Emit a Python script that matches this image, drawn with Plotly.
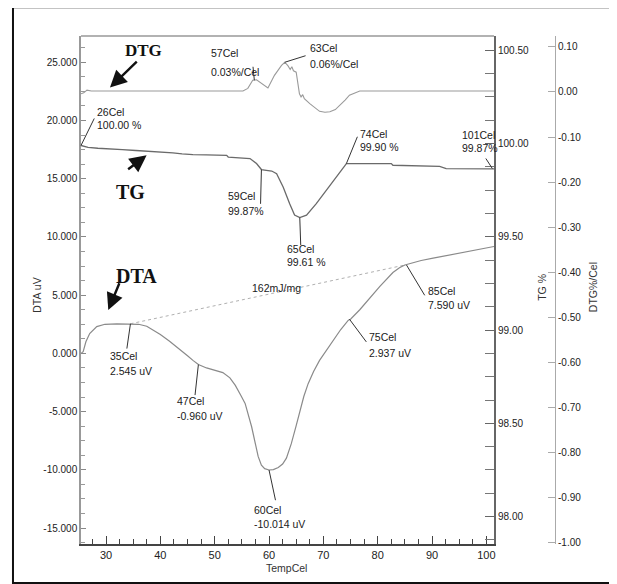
import plotly.graph_objects as go

# ---------------- data ----------------
dta_T = [25.4, 25.8, 26.3, 27.0, 28.3, 29.8, 32.0, 34.5, 36.0, 37.5, 38.7, 40.0, 41.7, 43.5,
         45.0, 46.0, 47.0, 48.5, 50.0, 51.5, 52.8, 53.8, 54.8, 55.6, 56.8, 58.0, 58.6, 59.2,
         60.0, 60.8, 61.7, 62.5, 63.2, 64.1, 65.0, 65.7, 66.4, 67.2, 68.2, 69.3, 70.5, 71.8,
         73.2, 74.6, 75.0, 76.7, 78.5, 80.4, 82.8, 84.0, 85.0, 86.5, 88.0, 90.2, 93.0, 96.3,
         99.0, 101.4]
dta_v = [0.00, 0.15, 1.00, 1.70, 2.30, 2.50, 2.54, 2.545, 2.50, 2.33, 2.02, 1.62, 1.05, 0.40,
         -0.20, -0.60, -0.96, -1.25, -1.45, -1.65, -2.10, -2.75, -3.60, -4.30, -6.30, -8.85,
         -9.60, -9.90, -10.014, -9.98, -9.80, -9.50, -9.00, -7.75, -6.20, -4.90, -3.70, -2.60,
         -1.55, -0.60, 0.20, 1.10, 2.05, 2.85, 2.937, 3.75, 4.75, 5.75, 6.95, 7.35, 7.59, 7.80,
         7.98, 8.18, 8.42, 8.72, 8.98, 9.18]

# integration baseline (dotted) between the two DTA points
base_T = [34.5, 85.0]
base_v = [2.545, 7.59]

tg_T = [25.4, 26.7, 28.5, 30.7, 33.0, 35.5, 37.5, 40.0, 42.3, 44.0, 46.0, 48.5, 51.0, 52.2,
        52.5, 56.5, 57.7, 58.6, 59.5, 60.5, 61.4, 62.6, 63.8, 64.7, 65.66, 66.9, 68.7, 70.3,
        71.8, 73.0, 74.24, 78.0, 82.5, 82.8, 87.0, 91.4, 92.6, 97.0, 101.4]
tg_v = [99.99, 99.98, 99.975, 99.973, 99.968, 99.963, 99.96, 99.955, 99.95, 99.945, 99.941,
        99.94, 99.937, 99.937, 99.928, 99.92, 99.893, 99.861, 99.857, 99.853, 99.839, 99.767,
        99.678, 99.617, 99.603, 99.616, 99.678, 99.74, 99.803, 99.85, 99.893, 99.893, 99.893,
        99.884, 99.882, 99.878, 99.866, 99.866, 99.865]

dtg_T = [25.4, 25.9, 26.5, 27.3, 30.0, 40.0, 50.0, 55.2, 56.1, 57.0, 57.7, 58.7, 59.8, 61.0,
         62.3, 62.9, 63.5, 63.9, 64.2, 64.5, 65.0, 65.6, 65.9, 66.2, 66.5, 67.5, 68.5, 69.3,
         70.3, 71.2, 72.2, 73.0, 74.0, 74.8, 75.8, 76.7, 85.0, 101.4]
dtg_v = [-0.004, -0.002, 0.004, 0.002, 0.002, 0.002, 0.002, 0.002, 0.008, 0.026, 0.027, 0.019,
         0.009, 0.037, 0.059, 0.066, 0.058, 0.050, 0.056, 0.047, 0.044, -0.004, -0.011, -0.006,
         -0.015, -0.026, -0.036, -0.043, -0.045, -0.044, -0.039, -0.030, -0.018, -0.007,
         -0.002, 0.002, 0.002, 0.002]

# point annotations
ann_T = [57.3, 62.9, 25.4, 58.6, 65.66, 74.24, 101.1, 34.5, 47.0, 60.0, 74.8, 85.3]
ann_val = [0.026, 0.066, 99.99, 99.861, 99.603, 99.893, 99.866, 2.545, -0.96, -10.014, 2.937, 7.59]
ann_axis = ["y3", "y3", "y2", "y2", "y2", "y2", "y2", "y", "y", "y", "y", "y"]
ann_line1 = ["57Cel", "63Cel", "26Cel", "59Cel", "65Cel", "74Cel", "101Cel", "35Cel", "47Cel",
             "60Cel", "75Cel", "85Cel"]
ann_line2 = ["0.03%/Cel", "0.06%/Cel", "100.00 %", "99.87%", "99.61 %", "99.90 %", "99.87%",
             "2.545 uV", "-0.960 uV", "-10.014 uV", "2.937 uV", "7.590 uV"]

# ticks
x_ticks = [30, 40, 50, 60, 70, 80, 90, 100]
dta_ticks = [-15, -10, -5, 0, 5, 10, 15, 20, 25]
dta_ticktext = ["-15.000", "-10.000", "-5.000", "0.000", "5.000", "10.000", "15.000",
                "20.000", "25.000"]
tg_ticks = [98.0, 98.5, 99.0, 99.5, 100.0, 100.5]
tg_ticktext = ["98.00", "98.50", "99.00", "99.50", "100.00", "100.50"]
dtg_ticks = [-1.0, -0.9, -0.8, -0.7, -0.6, -0.5, -0.4, -0.3, -0.2, -0.1, 0.0, 0.1]
dtg_ticktext = ["-1.00", "-0.90", "-0.80", "-0.70", "-0.60", "-0.50", "-0.40", "-0.30",
                "-0.20", "-0.10", "0.00", "0.10"]

# ---------------- layout helpers (pixel offsets) ----------------
txt_dx = [-45.5, 23, 14, -35, -15, 11.3, -32.8, -22.2, -23.5, -17.5, 18, 19.1]
txt_dy1 = [-27, -14.3, -33.5, 26.8, 30.9, -29.3, -33.3, 32.3, 36.5, 40, 18.2, 25.8]
txt_dy2 = [-8.3, 1.3, -20.2, 41.8, 44.3, -16.6, -20.6, 47, 51.5, 54, 33.6, 40.1]
lead_dx = [-1.5, 22.3, 14, -0.9, 1, 11.6, -7.5, -3.8, -3.5, 6.8, 18, 19.1]
lead_dy = [-15, -7, -28.5, 35.8, 29, -28.3, -11.6, 26.3, 32, 31.7, 24.2, 31.8]

SANS = "Liberation Sans, Arial, sans-serif"
SERIF = "Liberation Serif, Times New Roman, serif"

fig = go.Figure()
fig.add_trace(go.Scatter(x=base_T, y=base_v, mode="lines", yaxis="y",
                         line=dict(color="#b0b0b0", width=1, dash="dot"), showlegend=False))
fig.add_trace(go.Scatter(x=dta_T, y=dta_v, mode="lines", yaxis="y",
                         line=dict(color="#8a8a8a", width=1.2), showlegend=False))
fig.add_trace(go.Scatter(x=tg_T, y=tg_v, mode="lines", yaxis="y2",
                         line=dict(color="#6a6a6a", width=1.3), showlegend=False))
fig.add_trace(go.Scatter(x=dtg_T, y=dtg_v, mode="lines", yaxis="y3",
                         line=dict(color="#9a9a9a", width=1.1), showlegend=False))

XD = 0.8622
annotations = []
for i in range(len(ann_T)):
    yr = ann_axis[i]
    annotations.append(dict(x=ann_T[i], y=ann_val[i], xref="x", yref=yr, text="",
                            showarrow=True, arrowhead=0, arrowwidth=1, arrowcolor="#333",
                            ax=lead_dx[i], ay=lead_dy[i], standoff=0, startstandoff=0))
    for line, dy in ((ann_line1[i], txt_dy1[i]), (ann_line2[i], txt_dy2[i])):
        annotations.append(dict(x=ann_T[i], y=ann_val[i], xref="x", yref=yr, text=line,
                                showarrow=False, xanchor="left", yanchor="middle",
                                xshift=txt_dx[i], yshift=-dy,
                                font=dict(family=SANS, size=10.5, color="#1a1a1a")))

# bold curve names and arrows
for name, tx, ty, fs in (("DTG", 36.81, 26.03, 17), ("TG", 34.42, 13.87, 20),
                         ("DTA", 35.61, 6.64, 20)):
    annotations.append(dict(x=tx, y=ty, xref="x", yref="y", text="<b>%s</b>" % name,
                            showarrow=False, xanchor="center", yanchor="middle",
                            font=dict(family=SERIF, size=fs, color="#111")))
for hx, hy, axp, ayp in ((30.73, 22.83, 28.3, -27.3), (37.48, 17.01, -20, 15),
                         (30.42, 3.72, 11.7, -28.3)):
    annotations.append(dict(x=hx, y=hy, xref="x", yref="y", text="", showarrow=True,
                            arrowhead=2, arrowsize=1.4, arrowwidth=2.4, arrowcolor="#111",
                            ax=axp, ay=ayp, standoff=0))

annotations.append(dict(x=61.38, y=5.61, xref="x", yref="y", text="162mJ/mg", showarrow=False,
                        xanchor="center", yanchor="middle",
                        font=dict(family=SANS, size=10.5, color="#1a1a1a")))

# axis titles
for t, px, py, ang in (("DTA uV", -0.0925, 0.49, -90), ("TG %", 0.9618, 0.5056, -90),
                       ("DTG%/Cel", 1.0689, 0.5056, -90), ("TempCel", 0.43, -0.0472, 0)):
    annotations.append(dict(x=px, y=py, xref="paper", yref="paper", text=t, showarrow=False,
                            textangle=ang, xanchor="center", yanchor="middle",
                            font=dict(family=SANS, size=10.5, color="#333")))

tickfont = dict(family=SANS, size=10, color="#222")
fig.update_layout(
    width=617, height=584, margin=dict(l=73, r=65, t=28, b=48),
    paper_bgcolor="white", plot_bgcolor="white", showlegend=False,
    xaxis=dict(domain=[0, XD], range=[25.4, 101.4], tickvals=x_ticks, ticks="inside",
               ticklen=8, tickwidth=1.2, tickcolor="#444", showline=True, linecolor="#444",
               linewidth=2, showgrid=False, zeroline=False, tickfont=dict(family=SANS, size=11, color="#222"),
               minor=dict(dtick=2.5, tick0=0, ticks="inside", ticklen=5, tickcolor="#444",
                          showgrid=False)),
    yaxis=dict(range=[-16.37, 27.26], tickvals=dta_ticks, ticktext=dta_ticktext,
               ticks="inside", ticklen=5, tickcolor="#888", showline=True, linecolor="#999",
               linewidth=1.5, showgrid=False, zeroline=False, tickfont=tickfont,
               minor=dict(dtick=1.25, tick0=0, ticks="inside", ticklen=4, tickcolor="#999",
                          showgrid=False)),
    yaxis2=dict(overlaying="y", side="right", anchor="x", range=[97.853, 100.577],
                tickvals=tg_ticks, ticktext=tg_ticktext, ticks="inside", ticklen=9,
                tickcolor="#666", showline=True, linecolor="#666", linewidth=2,
                showgrid=False, zeroline=False, tickfont=tickfont,
                minor=dict(dtick=0.125, tick0=0, ticks="inside", ticklen=9, tickcolor="#777",
                           showgrid=False)),
    yaxis3=dict(overlaying="y", side="right", anchor="free", position=0.9896,
                range=[-1.0038, 0.1243], tickvals=dtg_ticks, ticktext=dtg_ticktext,
                ticks="inside", ticklen=7, tickcolor="#aaa", showline=True, linecolor="#aaa",
                linewidth=1, showgrid=False, zeroline=False, tickfont=tickfont),
    annotations=annotations,
    shapes=[
        dict(type="line", xref="paper", yref="paper", x0=0, x1=XD, y0=1, y1=1,
             line=dict(color="#999", width=1.5)),
        dict(type="rect", xref="paper", yref="paper", x0=-0.142, x1=1.1169, y0=-0.0767,
             y1=1.0565, line=dict(color="#111", width=2)),
    ],
)

fig.write_html("out.html")
